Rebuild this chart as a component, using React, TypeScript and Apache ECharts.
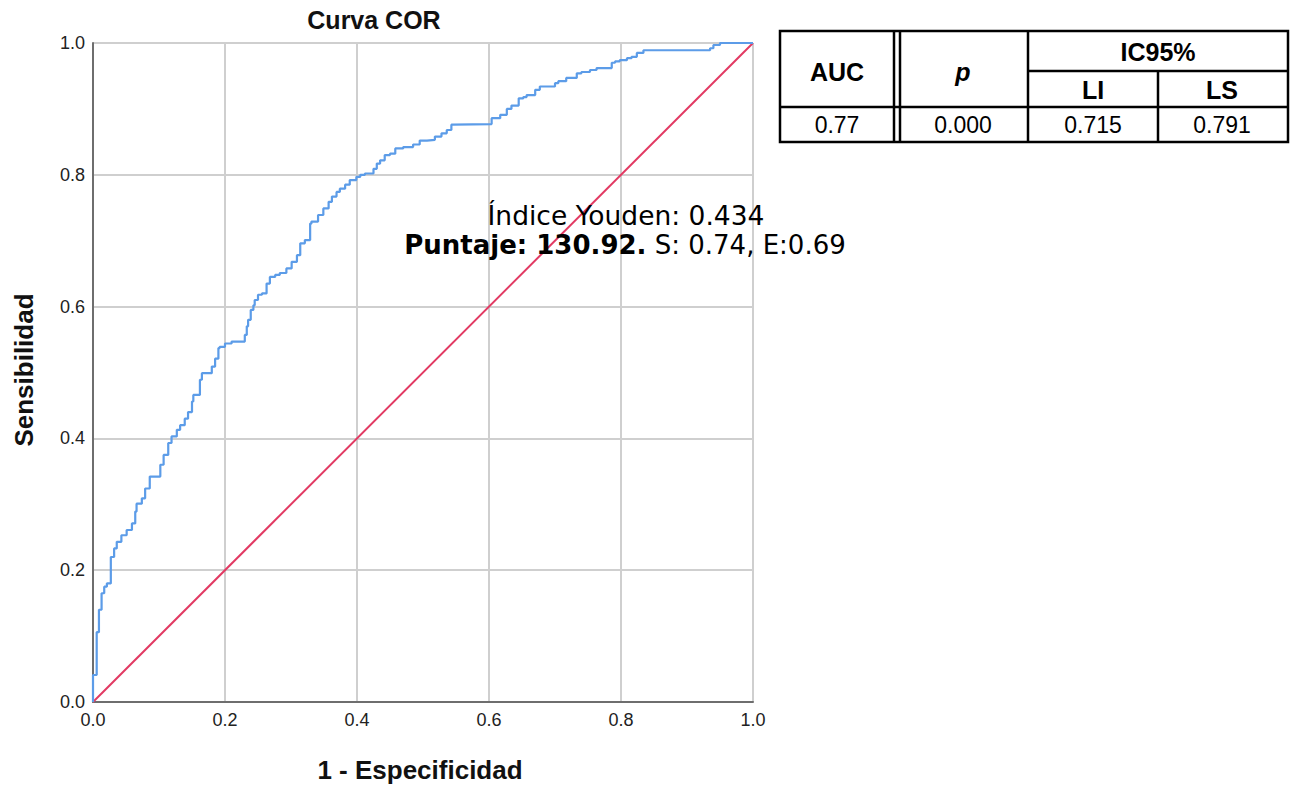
import React, { useEffect, useRef } from "react";
import * as echarts from "echarts";

// ROC curve points: [1 - Especificidad, Sensibilidad]
const rocX = [0, 0.0015, 0.0056, 0.0056, 0.009, 0.009, 0.013, 0.013, 0.017, 0.017, 0.021, 0.021, 0.027, 0.027, 0.032, 0.036, 0.043, 0.051, 0.059, 0.064, 0.066, 0.074, 0.079, 0.086, 0.089, 0.102, 0.107, 0.114, 0.119, 0.127, 0.132, 0.139, 0.144, 0.15, 0.152, 0.162, 0.165, 0.18, 0.185, 0.19, 0.192, 0.2, 0.21, 0.23, 0.233, 0.235, 0.239, 0.243, 0.245, 0.25, 0.256, 0.263, 0.268, 0.276, 0.283, 0.293, 0.301, 0.309, 0.314, 0.321, 0.329, 0.331, 0.341, 0.349, 0.357, 0.362, 0.369, 0.374, 0.382, 0.389, 0.399, 0.405, 0.412, 0.425, 0.43, 0.435, 0.442, 0.45, 0.458, 0.47, 0.485, 0.495, 0.506, 0.518, 0.528, 0.536, 0.543, 0.546, 0.604, 0.617, 0.627, 0.634, 0.645, 0.652, 0.657, 0.67, 0.677, 0.682, 0.7, 0.705, 0.717, 0.733, 0.74, 0.753, 0.763, 0.773, 0.786, 0.791, 0.798, 0.809, 0.816, 0.824, 0.834, 0.849, 0.935, 0.94, 0.95, 0.958, 1];
const rocY = [0, 0.041, 0.041, 0.106, 0.106, 0.14, 0.14, 0.165, 0.165, 0.175, 0.175, 0.18, 0.18, 0.203, 0.22, 0.233, 0.243, 0.253, 0.261, 0.271, 0.289, 0.301, 0.309, 0.324, 0.342, 0.342, 0.36, 0.375, 0.393, 0.403, 0.413, 0.42, 0.43, 0.44, 0.456, 0.466, 0.489, 0.499, 0.509, 0.521, 0.537, 0.539, 0.544, 0.547, 0.557, 0.57, 0.58, 0.595, 0.602, 0.61, 0.618, 0.62, 0.635, 0.645, 0.648, 0.651, 0.658, 0.668, 0.678, 0.696, 0.701, 0.726, 0.729, 0.739, 0.749, 0.759, 0.767, 0.774, 0.779, 0.785, 0.792, 0.797, 0.8, 0.802, 0.809, 0.817, 0.822, 0.83, 0.832, 0.84, 0.842, 0.846, 0.852, 0.853, 0.858, 0.863, 0.868, 0.876, 0.877, 0.886, 0.891, 0.9, 0.905, 0.916, 0.918, 0.921, 0.929, 0.934, 0.934, 0.939, 0.942, 0.947, 0.954, 0.956, 0.959, 0.962, 0.962, 0.97, 0.972, 0.974, 0.977, 0.979, 0.985, 0.989, 0.989, 0.992, 0.997, 1, 1];
const diagX = [0, 1];
const diagY = [0, 1];

const chartTitle = "Curva COR";
const xTitle = "1 - Especificidad";
const yTitle = "Sensibilidad";
const noteLine1 = "Índice Youden: 0.434";
const noteBold = "Puntaje: 130.92.";
const noteRest = " S: 0.74, E:0.69";

const tableHeaders = ["AUC", "p", "IC95%", "LI", "LS"];
const tableValues = ["0.77", "0.000", "0.715", "0.791"];

export default function App() {
  const ref = useRef<HTMLDivElement>(null);
  useEffect(() => {
    if (!ref.current) return;
    const chart = echarts.init(ref.current, null, { renderer: "svg" });
    const roc = rocX.map((x, i) => [x, rocY[i]]);
    const diag = diagX.map((x, i) => [x, diagY[i]]);
    const font = "Liberation Sans";
    const lineStyle = { stroke: "#000", lineWidth: 2.5 };
    const tl = (x1: number, y1: number, x2: number, y2: number) => ({
      type: "line",
      shape: { x1, y1, x2, y2 },
      style: lineStyle,
    });
    const tt = (text: string, x: number, y: number, bold: boolean, size: number, italic = false) => ({
      type: "text",
      x,
      y,
      style: {
        text,
        fill: "#000",
        fontFamily: font,
        fontSize: size,
        fontWeight: bold ? "bold" : "normal",
        fontStyle: italic ? "italic" : "normal",
        align: "center",
        verticalAlign: "middle",
      },
    });
    const axisCommon = {
      type: "value",
      min: 0,
      max: 1,
      interval: 0.2,
      axisLine: { show: true, lineStyle: { color: "#6e6e6e", width: 2 } },
      axisTick: { show: false },
      splitLine: { show: true, lineStyle: { color: "#cfcfcf", width: 2 } },
      axisLabel: {
        color: "#222",
        fontSize: 18,
        fontFamily: font,
        formatter: (v: number) => v.toFixed(1),
      },
    };
    const titleStyle = (text: string) => ({
      text,
      fontFamily: font,
      fontSize: 26,
      fontWeight: "bold",
      fill: "#111",
      align: "center",
      verticalAlign: "middle",
    });
    chart.setOption({
      animation: false,
      backgroundColor: "#fff",
      grid: { left: 93, top: 43, width: 660, height: 659 },
      xAxis: { ...axisCommon, axisLabel: { ...axisCommon.axisLabel, margin: 9 } },
      yAxis: { ...axisCommon, axisLabel: { ...axisCommon.axisLabel, margin: 8 } },
      series: [
        {
          type: "line",
          data: diag,
          symbol: "none",
          lineStyle: { color: "#e23a63", width: 2 },
          z: 2,
        },
        {
          type: "line",
          data: roc,
          step: "start",
          symbol: "none",
          lineStyle: { color: "#5c9ce8", width: 2.2 },
          z: 3,
        },
      ],
      graphic: [
        { type: "text", x: 374, y: 20, style: { ...titleStyle(chartTitle), fontSize: 25 } },
        { type: "text", x: 420, y: 770, style: titleStyle(xTitle) },
        { type: "text", x: 24, y: 370, rotation: Math.PI / 2, style: titleStyle(yTitle) },
        {
          type: "text",
          x: 626,
          y: 215,
          z: 10,
          style: { text: noteLine1, fontFamily: "DejaVu Sans", fontSize: 26.5, fill: "#000", align: "center", verticalAlign: "middle" },
        },
        {
          type: "text",
          x: 625,
          y: 245,
          z: 10,
          style: {
            text: `{b|${noteBold}}{r|${noteRest}}`,
            align: "center",
            verticalAlign: "middle",
            rich: {
              b: { fontFamily: "DejaVu Sans", fontWeight: "bold", fontSize: 26, fill: "#000" },
              r: { fontFamily: "DejaVu Sans", fontSize: 26, fill: "#000" },
            },
          },
        },
        {
          type: "group",
          z: 10,
          children: [
            { type: "rect", shape: { x: 780, y: 31, width: 508, height: 111 }, style: { fill: "#fff", stroke: "#000", lineWidth: 2.5 } },
            tl(894, 31, 894, 142),
            tl(900, 31, 900, 142),
            tl(1028, 31, 1028, 142),
            tl(1158, 71, 1158, 142),
            tl(1028, 71, 1288, 71),
            tl(780, 107, 1288, 107),
            tt(tableHeaders[0], 837, 72, true, 25),
            tt(tableHeaders[1], 963, 72, true, 25, true),
            tt(tableHeaders[2], 1158, 52, true, 25),
            tt(tableHeaders[3], 1093, 90, true, 25),
            tt(tableHeaders[4], 1222, 90, true, 25),
            tt(tableValues[0], 837, 125, false, 23),
            tt(tableValues[1], 963, 125, false, 23),
            tt(tableValues[2], 1093, 125, false, 23),
            tt(tableValues[3], 1222, 125, false, 23),
          ],
        },
      ],
    });
    return () => chart.dispose();
  }, []);
  return (
    <div
      ref={ref}
      style={{ position: "fixed", left: 0, top: 0, width: 1293, height: 786, background: "#fff" }}
    />
  );
}
